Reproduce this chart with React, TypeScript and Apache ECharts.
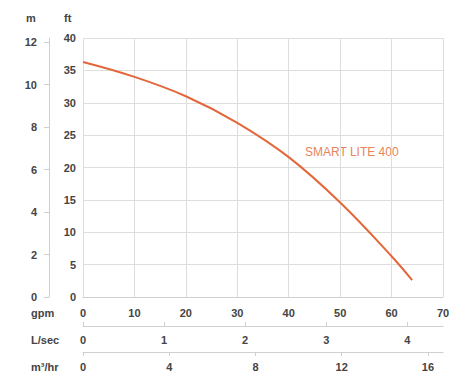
import React, { useEffect, useRef } from "react";
import * as echarts from "echarts";

const gpmFlow = [0, 10, 20, 30, 40, 50, 60, 64];
const headFt = [36.3, 34.0, 31.0, 26.9, 21.6, 14.6, 6.3, 2.6];
const seriesName = "SMART LITE 400";
const mTicks = [0, 2, 4, 6, 8, 10, 12];
const lsTicks = [0, 1, 2, 3, 4];
const m3Ticks = [0, 4, 8, 12, 16];
const rowNames = ["gpm", "L/sec", "m³/hr"];

const FT_PER_M = 3.28084;
const LS_MAX = 4.44;
const M3_MAX = 16.7;

export default function App() {
  const ref = useRef<HTMLDivElement>(null);
  useEffect(() => {
    const chart = echarts.init(ref.current!, null, { renderer: "svg" });
    const font = "'Liberation Sans', Arial, sans-serif";
    const lbl = { color: "#444", fontSize: 11, fontWeight: "bold" as const, fontFamily: font };
    const axisLineStyle = { lineStyle: { color: "#cfcfcf", width: 1 } };
    chart.setOption({
      animation: false,
      grid: { left: 83, right: 22, top: 38, bottom: 80 },
      xAxis: [
        {
          type: "value", min: 0, max: 70, interval: 10, position: "bottom",
          axisLine: { show: true, ...axisLineStyle },
          axisTick: { show: false },
          axisLabel: { ...lbl, margin: 10 },
          splitLine: { show: true, lineStyle: { color: "#dedede" } },
        },
        {
          type: "value", min: 0, max: LS_MAX, position: "bottom", offset: 29,
          axisLine: { show: true, onZero: false, ...axisLineStyle },
          axisTick: { show: true, inside: true, length: 4, customValues: lsTicks, lineStyle: { color: "#cfcfcf" } },
          axisLabel: { ...lbl, margin: 8, customValues: lsTicks, formatter: (v: number) => String(v) },
          splitLine: { show: false },
        },
        {
          type: "value", min: 0, max: M3_MAX, position: "bottom", offset: 55,
          axisLine: { show: true, onZero: false, ...axisLineStyle },
          axisTick: { show: true, length: 4, customValues: m3Ticks, lineStyle: { color: "#cfcfcf" } },
          axisLabel: { ...lbl, margin: 9, customValues: m3Ticks, formatter: (v: number) => String(v) },
          splitLine: { show: false },
        },
      ],
      yAxis: [
        {
          type: "value", min: 0, max: 40, interval: 5, position: "left",
          axisLine: { show: false },
          axisTick: { show: false },
          axisLabel: { ...lbl, margin: 7 },
          splitLine: { show: true, lineStyle: { color: "#dedede" } },
        },
        {
          type: "value", min: 0, max: 40 / FT_PER_M, position: "left", offset: 34,
          axisLine: { show: true, onZero: false, ...axisLineStyle },
          axisTick: { show: true, length: 5, customValues: mTicks, lineStyle: { color: "#cfcfcf" } },
          axisLabel: { ...lbl, margin: 12, customValues: mTicks, formatter: (v: number) => String(v) },
          splitLine: { show: false },
        },
      ],
      graphic: [
        { type: "text", left: 26, top: 12, style: { text: "m", fill: "#444", font: `bold 11px ${font}` } },
        { type: "text", left: 64, top: 12, style: { text: "ft", fill: "#444", font: `bold 11px ${font}` } },
        ...rowNames.map((t, i) => ({
          type: "text", left: 31, top: [307, 334, 361][i],
          style: { text: t, fill: "#444", font: `bold 11px ${font}` },
        })),
        { type: "text", left: 305, top: 146, style: { text: seriesName, fill: "#e8845a", font: `12px ${font}` } },
      ],
      series: [
        {
          name: seriesName, type: "line", xAxisIndex: 0, yAxisIndex: 0,
          data: gpmFlow.map((g, i) => [g, headFt[i]]),
          smooth: 0.4, showSymbol: false,
          lineStyle: { color: "#e2673a", width: 2 },
        },
      ],
    });
    return () => chart.dispose();
  }, []);
  return <div ref={ref} style={{ position: "absolute", left: 0, top: 0, width: 465, height: 377 }} />;
}
